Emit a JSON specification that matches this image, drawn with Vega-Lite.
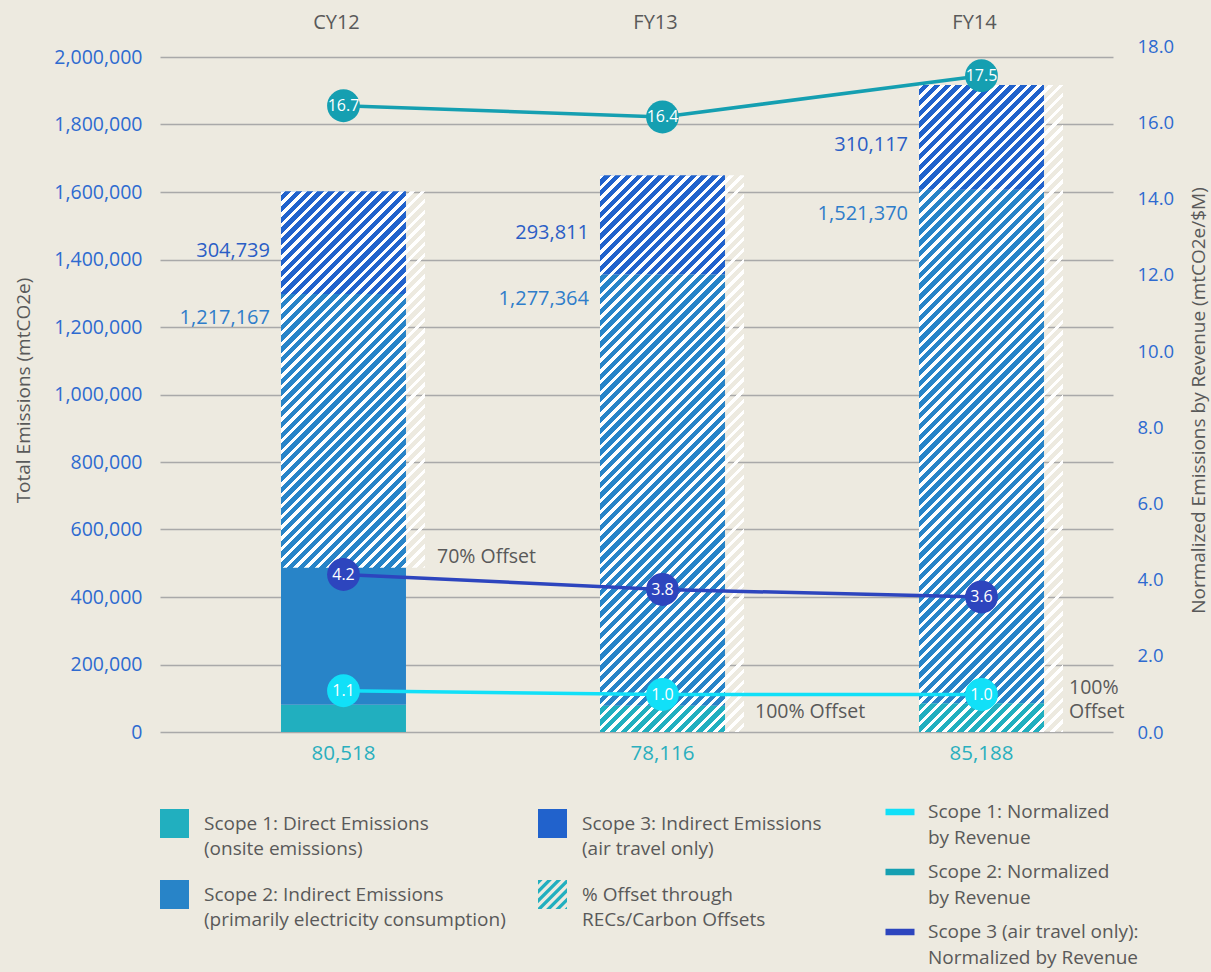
{
"$schema": "https://vega.github.io/schema/vega-lite/v6.json",
"width": 953, "height": 675,
"autosize": "none",
"padding": {"left": 160, "top": 57, "right": 98, "bottom": 240},
"background": "#EDEAE0",
"config": {"font": "Open Sans", "view": {"stroke": null}, "axis": {"labelFont": "Open Sans", "titleFont": "Open Sans"}, "legend": {"labelFont": "Open Sans", "padding": 0}},
"datasets": {
"bars": [
{"year": "CY12", "scope": "Scope 1", "value": 80518},
{"year": "CY12", "scope": "Scope 2", "value": 1217167},
{"year": "CY12", "scope": "Scope 3", "value": 304739},
{"year": "FY13", "scope": "Scope 1", "value": 78116},
{"year": "FY13", "scope": "Scope 2", "value": 1277364},
{"year": "FY13", "scope": "Scope 3", "value": 293811},
{"year": "FY14", "scope": "Scope 1", "value": 85188},
{"year": "FY14", "scope": "Scope 2", "value": 1521370},
{"year": "FY14", "scope": "Scope 3", "value": 310117}
],
"offsets": [
{"year": "CY12", "from": 487000, "to": 1602424, "note": "70% Offset"},
{"year": "FY13", "from": 0, "to": 1649291, "note": "100% Offset"},
{"year": "FY14", "from": 0, "to": 1916675, "note": "100%\nOffset"}
],
"norm": [
{"year": "CY12", "series": "Scope 1", "value": 1.1},
{"year": "FY13", "series": "Scope 1", "value": 1.0},
{"year": "FY14", "series": "Scope 1", "value": 1.0},
{"year": "CY12", "series": "Scope 2", "value": 16.7},
{"year": "FY13", "series": "Scope 2", "value": 16.4},
{"year": "FY14", "series": "Scope 2", "value": 17.5},
{"year": "CY12", "series": "Scope 3", "value": 4.2},
{"year": "FY13", "series": "Scope 3", "value": 3.8},
{"year": "FY14", "series": "Scope 3", "value": 3.6}
]
},
"layer": [
{"layer": [
{"data": {"name": "bars"},
 "mark": {"type": "bar"},
 "encoding": {
  "x": {"field": "year", "type": "nominal", "scale": {"domain": ["CY12", "FY13", "FY14"], "paddingInner": 0.6082, "paddingOuter": 0.2978, "align": 0.6368},
        "axis": {"orient": "top", "title": null, "domain": false, "ticks": false, "tickSize": 0, "labelAngle": 0, "labelFontSize": 20, "labelColor": "#595959", "labelPadding": 25, "labelOffset": -7}},
  "y": {"field": "value", "type": "quantitative", "stack": "zero", "scale": {"domain": [0, 2000000], "nice": false, "zero": true},
        "axis": {"orient": "left", "title": "Total Emissions (mtCO2e)", "values": [0, 200000, 400000, 600000, 800000, 1000000, 1200000, 1400000, 1600000, 1800000, 2000000], "format": ",d", "domain": false, "ticks": false, "tickSize": 0, "grid": true, "gridColor": "#A9A9A9", "gridWidth": 1.5, "labelColor": "#2E6AD0", "labelFontSize": 19.5, "labelPadding": 18, "titleColor": "#595959", "titleFontSize": 19, "titleFontWeight": "normal", "titleX": -137, "titleY": 333, "titleAngle": 270, "titleBaseline": "middle", "titleAlign": "center"}},
  "color": {"field": "scope", "type": "nominal",
   "scale": {"domain": ["Scope 1", "Scope 2", "Scope 3", "Offset"], "range": ["#21AFBF", "#2884C8", "#2162CC", "#21AFBF"]},
   "legend": {"orient": "none", "legendX": 0, "legendY": 752, "columns": 2, "columnPadding": 32, "rowPadding": 21, "title": null,
     "symbolType": "square", "symbolSize": 841, "symbolStrokeWidth": 0, "labelFontSize": 19, "labelColor": "#595959", "labelOffset": 15, "labelLimit": 500,
     "labelExpr": "datum.label === 'Scope 1' ? ['Scope 1: Direct Emissions', '(onsite emissions)'] : datum.label === 'Scope 2' ? ['Scope 2: Indirect Emissions', '(primarily electricity consumption)'] : datum.label === 'Scope 3' ? ['Scope 3: Indirect Emissions', '(air travel only)'] : ['% Offset through', 'RECs/Carbon Offsets']",
     "encoding": {
       "labels": {"lineHeight": {"value": 25.5}},
       "symbols": {"shape": {"condition": {"test": "datum.value === 'Offset'", "value": "M-1,-1L-0.68,-1L-1,-0.68Z M-1,-0.36L-0.36,-1L-0.04,-1L-1,-0.04Z M-1,0.28L0.28,-1L0.6,-1L-1,0.6Z M-1,0.92L0.92,-1L1,-1L1,-0.76L-0.76,1L-1,1Z M-0.44,1L1,-0.44L1,-0.12L-0.12,1Z M0.2,1L1,0.2L1,0.52L0.52,1Z M0.84,1L1,0.84L1,1Z"}, "value": "square"}}
     }}},
  "order": {"field": "scope", "type": "ordinal", "sort": "ascending"}
 }},
{"data": {"name": "offsets"}, "transform": [{"filter": "datum.year === 'CY12'"}],
 "mark": {"type": "bar", "width": 144, "xOffset": 9.5, "stroke": null, "fill": {"gradient": "linear", "x1": 0, "y1": 0, "x2": 0.76587, "y2": 2.00216, "stops": [
{"offset":0,"color":"#fff"},{"offset":0.005,"color":"#fff"},{"offset":0.005,"color":"#fff0"},{"offset":0.0125,"color":"#fff0"},
{"offset":0.0125,"color":"#fff"},{"offset":0.0175,"color":"#fff"},{"offset":0.0175,"color":"#fff0"},{"offset":0.025,"color":"#fff0"},
{"offset":0.025,"color":"#fff"},{"offset":0.03,"color":"#fff"},{"offset":0.03,"color":"#fff0"},{"offset":0.0375,"color":"#fff0"},
{"offset":0.0375,"color":"#fff"},{"offset":0.0425,"color":"#fff"},{"offset":0.0425,"color":"#fff0"},{"offset":0.05,"color":"#fff0"},
{"offset":0.05,"color":"#fff"},{"offset":0.055,"color":"#fff"},{"offset":0.055,"color":"#fff0"},{"offset":0.0625,"color":"#fff0"},
{"offset":0.0625,"color":"#fff"},{"offset":0.0675,"color":"#fff"},{"offset":0.0675,"color":"#fff0"},{"offset":0.075,"color":"#fff0"},
{"offset":0.075,"color":"#fff"},{"offset":0.08,"color":"#fff"},{"offset":0.08,"color":"#fff0"},{"offset":0.0875,"color":"#fff0"},
{"offset":0.0875,"color":"#fff"},{"offset":0.0925,"color":"#fff"},{"offset":0.0925,"color":"#fff0"},{"offset":0.1,"color":"#fff0"},
{"offset":0.1,"color":"#fff"},{"offset":0.105,"color":"#fff"},{"offset":0.105,"color":"#fff0"},{"offset":0.1125,"color":"#fff0"},
{"offset":0.1125,"color":"#fff"},{"offset":0.1175,"color":"#fff"},{"offset":0.1175,"color":"#fff0"},{"offset":0.125,"color":"#fff0"},
{"offset":0.125,"color":"#fff"},{"offset":0.13,"color":"#fff"},{"offset":0.13,"color":"#fff0"},{"offset":0.1375,"color":"#fff0"},
{"offset":0.1375,"color":"#fff"},{"offset":0.1425,"color":"#fff"},{"offset":0.1425,"color":"#fff0"},{"offset":0.15,"color":"#fff0"},
{"offset":0.15,"color":"#fff"},{"offset":0.155,"color":"#fff"},{"offset":0.155,"color":"#fff0"},{"offset":0.1625,"color":"#fff0"},
{"offset":0.1625,"color":"#fff"},{"offset":0.1675,"color":"#fff"},{"offset":0.1675,"color":"#fff0"},{"offset":0.175,"color":"#fff0"},
{"offset":0.175,"color":"#fff"},{"offset":0.18,"color":"#fff"},{"offset":0.18,"color":"#fff0"},{"offset":0.1875,"color":"#fff0"},
{"offset":0.1875,"color":"#fff"},{"offset":0.1925,"color":"#fff"},{"offset":0.1925,"color":"#fff0"},{"offset":0.2,"color":"#fff0"},
{"offset":0.2,"color":"#fff"},{"offset":0.205,"color":"#fff"},{"offset":0.205,"color":"#fff0"},{"offset":0.2125,"color":"#fff0"},
{"offset":0.2125,"color":"#fff"},{"offset":0.2175,"color":"#fff"},{"offset":0.2175,"color":"#fff0"},{"offset":0.225,"color":"#fff0"},
{"offset":0.225,"color":"#fff"},{"offset":0.23,"color":"#fff"},{"offset":0.23,"color":"#fff0"},{"offset":0.2375,"color":"#fff0"},
{"offset":0.2375,"color":"#fff"},{"offset":0.2425,"color":"#fff"},{"offset":0.2425,"color":"#fff0"},{"offset":0.25,"color":"#fff0"},
{"offset":0.25,"color":"#fff"},{"offset":0.255,"color":"#fff"},{"offset":0.255,"color":"#fff0"},{"offset":0.2625,"color":"#fff0"},
{"offset":0.2625,"color":"#fff"},{"offset":0.2675,"color":"#fff"},{"offset":0.2675,"color":"#fff0"},{"offset":0.275,"color":"#fff0"},
{"offset":0.275,"color":"#fff"},{"offset":0.28,"color":"#fff"},{"offset":0.28,"color":"#fff0"},{"offset":0.2875,"color":"#fff0"},
{"offset":0.2875,"color":"#fff"},{"offset":0.2925,"color":"#fff"},{"offset":0.2925,"color":"#fff0"},{"offset":0.3,"color":"#fff0"},
{"offset":0.3,"color":"#fff"},{"offset":0.305,"color":"#fff"},{"offset":0.305,"color":"#fff0"},{"offset":0.3125,"color":"#fff0"},
{"offset":0.3125,"color":"#fff"},{"offset":0.3175,"color":"#fff"},{"offset":0.3175,"color":"#fff0"},{"offset":0.325,"color":"#fff0"},
{"offset":0.325,"color":"#fff"},{"offset":0.33,"color":"#fff"},{"offset":0.33,"color":"#fff0"},{"offset":0.3375,"color":"#fff0"},
{"offset":0.3375,"color":"#fff"},{"offset":0.3425,"color":"#fff"},{"offset":0.3425,"color":"#fff0"},{"offset":0.35,"color":"#fff0"},
{"offset":0.35,"color":"#fff"},{"offset":0.355,"color":"#fff"},{"offset":0.355,"color":"#fff0"},{"offset":0.3625,"color":"#fff0"},
{"offset":0.3625,"color":"#fff"},{"offset":0.3675,"color":"#fff"},{"offset":0.3675,"color":"#fff0"},{"offset":0.375,"color":"#fff0"},
{"offset":0.375,"color":"#fff"},{"offset":0.38,"color":"#fff"},{"offset":0.38,"color":"#fff0"},{"offset":0.3875,"color":"#fff0"},
{"offset":0.3875,"color":"#fff"},{"offset":0.3925,"color":"#fff"},{"offset":0.3925,"color":"#fff0"},{"offset":0.4,"color":"#fff0"},
{"offset":0.4,"color":"#fff"},{"offset":0.405,"color":"#fff"},{"offset":0.405,"color":"#fff0"},{"offset":0.4125,"color":"#fff0"},
{"offset":0.4125,"color":"#fff"},{"offset":0.4175,"color":"#fff"},{"offset":0.4175,"color":"#fff0"},{"offset":0.425,"color":"#fff0"},
{"offset":0.425,"color":"#fff"},{"offset":0.43,"color":"#fff"},{"offset":0.43,"color":"#fff0"},{"offset":0.4375,"color":"#fff0"},
{"offset":0.4375,"color":"#fff"},{"offset":0.4425,"color":"#fff"},{"offset":0.4425,"color":"#fff0"},{"offset":0.45,"color":"#fff0"},
{"offset":0.45,"color":"#fff"},{"offset":0.455,"color":"#fff"},{"offset":0.455,"color":"#fff0"},{"offset":0.4625,"color":"#fff0"},
{"offset":0.4625,"color":"#fff"},{"offset":0.4675,"color":"#fff"},{"offset":0.4675,"color":"#fff0"},{"offset":0.475,"color":"#fff0"},
{"offset":0.475,"color":"#fff"},{"offset":0.48,"color":"#fff"},{"offset":0.48,"color":"#fff0"},{"offset":0.4875,"color":"#fff0"},
{"offset":0.4875,"color":"#fff"},{"offset":0.4925,"color":"#fff"},{"offset":0.4925,"color":"#fff0"},{"offset":0.5,"color":"#fff0"},
{"offset":0.5,"color":"#fff"},{"offset":0.505,"color":"#fff"},{"offset":0.505,"color":"#fff0"},{"offset":0.5125,"color":"#fff0"},
{"offset":0.5125,"color":"#fff"},{"offset":0.5175,"color":"#fff"},{"offset":0.5175,"color":"#fff0"},{"offset":0.525,"color":"#fff0"},
{"offset":0.525,"color":"#fff"},{"offset":0.53,"color":"#fff"},{"offset":0.53,"color":"#fff0"},{"offset":0.5375,"color":"#fff0"},
{"offset":0.5375,"color":"#fff"},{"offset":0.5425,"color":"#fff"},{"offset":0.5425,"color":"#fff0"},{"offset":0.55,"color":"#fff0"},
{"offset":0.55,"color":"#fff"},{"offset":0.555,"color":"#fff"},{"offset":0.555,"color":"#fff0"},{"offset":0.5625,"color":"#fff0"},
{"offset":0.5625,"color":"#fff"},{"offset":0.5675,"color":"#fff"},{"offset":0.5675,"color":"#fff0"},{"offset":0.575,"color":"#fff0"},
{"offset":0.575,"color":"#fff"},{"offset":0.58,"color":"#fff"},{"offset":0.58,"color":"#fff0"},{"offset":0.5875,"color":"#fff0"},
{"offset":0.5875,"color":"#fff"},{"offset":0.5925,"color":"#fff"},{"offset":0.5925,"color":"#fff0"},{"offset":0.6,"color":"#fff0"},
{"offset":0.6,"color":"#fff"},{"offset":0.605,"color":"#fff"},{"offset":0.605,"color":"#fff0"},{"offset":0.6125,"color":"#fff0"}
]}},
 "encoding": {"x": {"field": "year", "type": "nominal"}, "y": {"field": "from", "type": "quantitative"}, "y2": {"field": "to"}}},
{"data": {"name": "offsets"}, "transform": [{"filter": "datum.year === 'FY13'"}],
 "mark": {"type": "bar", "width": 144, "xOffset": 9.5, "stroke": null, "fill": {"gradient": "linear", "x1": 0, "y1": 0, "x2": 0.37635, "y2": 1.45481, "stops": [
{"offset":0,"color":"#fff"},{"offset":0.005,"color":"#fff"},{"offset":0.005,"color":"#fff0"},{"offset":0.0125,"color":"#fff0"},
{"offset":0.0125,"color":"#fff"},{"offset":0.0175,"color":"#fff"},{"offset":0.0175,"color":"#fff0"},{"offset":0.025,"color":"#fff0"},
{"offset":0.025,"color":"#fff"},{"offset":0.03,"color":"#fff"},{"offset":0.03,"color":"#fff0"},{"offset":0.0375,"color":"#fff0"},
{"offset":0.0375,"color":"#fff"},{"offset":0.0425,"color":"#fff"},{"offset":0.0425,"color":"#fff0"},{"offset":0.05,"color":"#fff0"},
{"offset":0.05,"color":"#fff"},{"offset":0.055,"color":"#fff"},{"offset":0.055,"color":"#fff0"},{"offset":0.0625,"color":"#fff0"},
{"offset":0.0625,"color":"#fff"},{"offset":0.0675,"color":"#fff"},{"offset":0.0675,"color":"#fff0"},{"offset":0.075,"color":"#fff0"},
{"offset":0.075,"color":"#fff"},{"offset":0.08,"color":"#fff"},{"offset":0.08,"color":"#fff0"},{"offset":0.0875,"color":"#fff0"},
{"offset":0.0875,"color":"#fff"},{"offset":0.0925,"color":"#fff"},{"offset":0.0925,"color":"#fff0"},{"offset":0.1,"color":"#fff0"},
{"offset":0.1,"color":"#fff"},{"offset":0.105,"color":"#fff"},{"offset":0.105,"color":"#fff0"},{"offset":0.1125,"color":"#fff0"},
{"offset":0.1125,"color":"#fff"},{"offset":0.1175,"color":"#fff"},{"offset":0.1175,"color":"#fff0"},{"offset":0.125,"color":"#fff0"},
{"offset":0.125,"color":"#fff"},{"offset":0.13,"color":"#fff"},{"offset":0.13,"color":"#fff0"},{"offset":0.1375,"color":"#fff0"},
{"offset":0.1375,"color":"#fff"},{"offset":0.1425,"color":"#fff"},{"offset":0.1425,"color":"#fff0"},{"offset":0.15,"color":"#fff0"},
{"offset":0.15,"color":"#fff"},{"offset":0.155,"color":"#fff"},{"offset":0.155,"color":"#fff0"},{"offset":0.1625,"color":"#fff0"},
{"offset":0.1625,"color":"#fff"},{"offset":0.1675,"color":"#fff"},{"offset":0.1675,"color":"#fff0"},{"offset":0.175,"color":"#fff0"},
{"offset":0.175,"color":"#fff"},{"offset":0.18,"color":"#fff"},{"offset":0.18,"color":"#fff0"},{"offset":0.1875,"color":"#fff0"},
{"offset":0.1875,"color":"#fff"},{"offset":0.1925,"color":"#fff"},{"offset":0.1925,"color":"#fff0"},{"offset":0.2,"color":"#fff0"},
{"offset":0.2,"color":"#fff"},{"offset":0.205,"color":"#fff"},{"offset":0.205,"color":"#fff0"},{"offset":0.2125,"color":"#fff0"},
{"offset":0.2125,"color":"#fff"},{"offset":0.2175,"color":"#fff"},{"offset":0.2175,"color":"#fff0"},{"offset":0.225,"color":"#fff0"},
{"offset":0.225,"color":"#fff"},{"offset":0.23,"color":"#fff"},{"offset":0.23,"color":"#fff0"},{"offset":0.2375,"color":"#fff0"},
{"offset":0.2375,"color":"#fff"},{"offset":0.2425,"color":"#fff"},{"offset":0.2425,"color":"#fff0"},{"offset":0.25,"color":"#fff0"},
{"offset":0.25,"color":"#fff"},{"offset":0.255,"color":"#fff"},{"offset":0.255,"color":"#fff0"},{"offset":0.2625,"color":"#fff0"},
{"offset":0.2625,"color":"#fff"},{"offset":0.2675,"color":"#fff"},{"offset":0.2675,"color":"#fff0"},{"offset":0.275,"color":"#fff0"},
{"offset":0.275,"color":"#fff"},{"offset":0.28,"color":"#fff"},{"offset":0.28,"color":"#fff0"},{"offset":0.2875,"color":"#fff0"},
{"offset":0.2875,"color":"#fff"},{"offset":0.2925,"color":"#fff"},{"offset":0.2925,"color":"#fff0"},{"offset":0.3,"color":"#fff0"},
{"offset":0.3,"color":"#fff"},{"offset":0.305,"color":"#fff"},{"offset":0.305,"color":"#fff0"},{"offset":0.3125,"color":"#fff0"},
{"offset":0.3125,"color":"#fff"},{"offset":0.3175,"color":"#fff"},{"offset":0.3175,"color":"#fff0"},{"offset":0.325,"color":"#fff0"},
{"offset":0.325,"color":"#fff"},{"offset":0.33,"color":"#fff"},{"offset":0.33,"color":"#fff0"},{"offset":0.3375,"color":"#fff0"},
{"offset":0.3375,"color":"#fff"},{"offset":0.3425,"color":"#fff"},{"offset":0.3425,"color":"#fff0"},{"offset":0.35,"color":"#fff0"},
{"offset":0.35,"color":"#fff"},{"offset":0.355,"color":"#fff"},{"offset":0.355,"color":"#fff0"},{"offset":0.3625,"color":"#fff0"},
{"offset":0.3625,"color":"#fff"},{"offset":0.3675,"color":"#fff"},{"offset":0.3675,"color":"#fff0"},{"offset":0.375,"color":"#fff0"},
{"offset":0.375,"color":"#fff"},{"offset":0.38,"color":"#fff"},{"offset":0.38,"color":"#fff0"},{"offset":0.3875,"color":"#fff0"},
{"offset":0.3875,"color":"#fff"},{"offset":0.3925,"color":"#fff"},{"offset":0.3925,"color":"#fff0"},{"offset":0.4,"color":"#fff0"},
{"offset":0.4,"color":"#fff"},{"offset":0.405,"color":"#fff"},{"offset":0.405,"color":"#fff0"},{"offset":0.4125,"color":"#fff0"},
{"offset":0.4125,"color":"#fff"},{"offset":0.4175,"color":"#fff"},{"offset":0.4175,"color":"#fff0"},{"offset":0.425,"color":"#fff0"},
{"offset":0.425,"color":"#fff"},{"offset":0.43,"color":"#fff"},{"offset":0.43,"color":"#fff0"},{"offset":0.4375,"color":"#fff0"},
{"offset":0.4375,"color":"#fff"},{"offset":0.4425,"color":"#fff"},{"offset":0.4425,"color":"#fff0"},{"offset":0.45,"color":"#fff0"},
{"offset":0.45,"color":"#fff"},{"offset":0.455,"color":"#fff"},{"offset":0.455,"color":"#fff0"},{"offset":0.4625,"color":"#fff0"},
{"offset":0.4625,"color":"#fff"},{"offset":0.4675,"color":"#fff"},{"offset":0.4675,"color":"#fff0"},{"offset":0.475,"color":"#fff0"},
{"offset":0.475,"color":"#fff"},{"offset":0.48,"color":"#fff"},{"offset":0.48,"color":"#fff0"},{"offset":0.4875,"color":"#fff0"},
{"offset":0.4875,"color":"#fff"},{"offset":0.4925,"color":"#fff"},{"offset":0.4925,"color":"#fff0"},{"offset":0.5,"color":"#fff0"},
{"offset":0.5,"color":"#fff"},{"offset":0.505,"color":"#fff"},{"offset":0.505,"color":"#fff0"},{"offset":0.5125,"color":"#fff0"},
{"offset":0.5125,"color":"#fff"},{"offset":0.5175,"color":"#fff"},{"offset":0.5175,"color":"#fff0"},{"offset":0.525,"color":"#fff0"},
{"offset":0.525,"color":"#fff"},{"offset":0.53,"color":"#fff"},{"offset":0.53,"color":"#fff0"},{"offset":0.5375,"color":"#fff0"},
{"offset":0.5375,"color":"#fff"},{"offset":0.5425,"color":"#fff"},{"offset":0.5425,"color":"#fff0"},{"offset":0.55,"color":"#fff0"},
{"offset":0.55,"color":"#fff"},{"offset":0.555,"color":"#fff"},{"offset":0.555,"color":"#fff0"},{"offset":0.5625,"color":"#fff0"},
{"offset":0.5625,"color":"#fff"},{"offset":0.5675,"color":"#fff"},{"offset":0.5675,"color":"#fff0"},{"offset":0.575,"color":"#fff0"},
{"offset":0.575,"color":"#fff"},{"offset":0.58,"color":"#fff"},{"offset":0.58,"color":"#fff0"},{"offset":0.5875,"color":"#fff0"},
{"offset":0.5875,"color":"#fff"},{"offset":0.5925,"color":"#fff"},{"offset":0.5925,"color":"#fff0"},{"offset":0.6,"color":"#fff0"},
{"offset":0.6,"color":"#fff"},{"offset":0.605,"color":"#fff"},{"offset":0.605,"color":"#fff0"},{"offset":0.6125,"color":"#fff0"},
{"offset":0.6125,"color":"#fff"},{"offset":0.6175,"color":"#fff"},{"offset":0.6175,"color":"#fff0"},{"offset":0.625,"color":"#fff0"},
{"offset":0.625,"color":"#fff"},{"offset":0.63,"color":"#fff"},{"offset":0.63,"color":"#fff0"},{"offset":0.6375,"color":"#fff0"},
{"offset":0.6375,"color":"#fff"},{"offset":0.6425,"color":"#fff"},{"offset":0.6425,"color":"#fff0"},{"offset":0.65,"color":"#fff0"},
{"offset":0.65,"color":"#fff"},{"offset":0.655,"color":"#fff"},{"offset":0.655,"color":"#fff0"},{"offset":0.6625,"color":"#fff0"},
{"offset":0.6625,"color":"#fff"},{"offset":0.6675,"color":"#fff"},{"offset":0.6675,"color":"#fff0"},{"offset":0.675,"color":"#fff0"},
{"offset":0.675,"color":"#fff"},{"offset":0.68,"color":"#fff"},{"offset":0.68,"color":"#fff0"},{"offset":0.6875,"color":"#fff0"},
{"offset":0.6875,"color":"#fff"},{"offset":0.6925,"color":"#fff"},{"offset":0.6925,"color":"#fff0"},{"offset":0.7,"color":"#fff0"},
{"offset":0.7,"color":"#fff"},{"offset":0.705,"color":"#fff"},{"offset":0.705,"color":"#fff0"},{"offset":0.7125,"color":"#fff0"},
{"offset":0.7125,"color":"#fff"},{"offset":0.7175,"color":"#fff"},{"offset":0.7175,"color":"#fff0"},{"offset":0.725,"color":"#fff0"},
{"offset":0.725,"color":"#fff"},{"offset":0.73,"color":"#fff"},{"offset":0.73,"color":"#fff0"},{"offset":0.7375,"color":"#fff0"},
{"offset":0.7375,"color":"#fff"},{"offset":0.7425,"color":"#fff"},{"offset":0.7425,"color":"#fff0"},{"offset":0.75,"color":"#fff0"},
{"offset":0.75,"color":"#fff"},{"offset":0.755,"color":"#fff"},{"offset":0.755,"color":"#fff0"},{"offset":0.7625,"color":"#fff0"},
{"offset":0.7625,"color":"#fff"},{"offset":0.7675,"color":"#fff"},{"offset":0.7675,"color":"#fff0"},{"offset":0.775,"color":"#fff0"},
{"offset":0.775,"color":"#fff"},{"offset":0.78,"color":"#fff"},{"offset":0.78,"color":"#fff0"},{"offset":0.7875,"color":"#fff0"},
{"offset":0.7875,"color":"#fff"},{"offset":0.7925,"color":"#fff"},{"offset":0.7925,"color":"#fff0"},{"offset":0.8,"color":"#fff0"},
{"offset":0.8,"color":"#fff"},{"offset":0.805,"color":"#fff"},{"offset":0.805,"color":"#fff0"},{"offset":0.8125,"color":"#fff0"}
]}},
 "encoding": {"x": {"field": "year", "type": "nominal"}, "y": {"field": "from", "type": "quantitative"}, "y2": {"field": "to"}}},
{"data": {"name": "offsets"}, "transform": [{"filter": "datum.year === 'FY14'"}],
 "mark": {"type": "bar", "width": 144, "xOffset": 9.5, "stroke": null, "fill": {"gradient": "linear", "x1": 0, "y1": 0, "x2": 0.28329, "y2": 1.27258, "stops": [
{"offset":0,"color":"#fff"},{"offset":0.005,"color":"#fff"},{"offset":0.005,"color":"#fff0"},{"offset":0.0125,"color":"#fff0"},
{"offset":0.0125,"color":"#fff"},{"offset":0.0175,"color":"#fff"},{"offset":0.0175,"color":"#fff0"},{"offset":0.025,"color":"#fff0"},
{"offset":0.025,"color":"#fff"},{"offset":0.03,"color":"#fff"},{"offset":0.03,"color":"#fff0"},{"offset":0.0375,"color":"#fff0"},
{"offset":0.0375,"color":"#fff"},{"offset":0.0425,"color":"#fff"},{"offset":0.0425,"color":"#fff0"},{"offset":0.05,"color":"#fff0"},
{"offset":0.05,"color":"#fff"},{"offset":0.055,"color":"#fff"},{"offset":0.055,"color":"#fff0"},{"offset":0.0625,"color":"#fff0"},
{"offset":0.0625,"color":"#fff"},{"offset":0.0675,"color":"#fff"},{"offset":0.0675,"color":"#fff0"},{"offset":0.075,"color":"#fff0"},
{"offset":0.075,"color":"#fff"},{"offset":0.08,"color":"#fff"},{"offset":0.08,"color":"#fff0"},{"offset":0.0875,"color":"#fff0"},
{"offset":0.0875,"color":"#fff"},{"offset":0.0925,"color":"#fff"},{"offset":0.0925,"color":"#fff0"},{"offset":0.1,"color":"#fff0"},
{"offset":0.1,"color":"#fff"},{"offset":0.105,"color":"#fff"},{"offset":0.105,"color":"#fff0"},{"offset":0.1125,"color":"#fff0"},
{"offset":0.1125,"color":"#fff"},{"offset":0.1175,"color":"#fff"},{"offset":0.1175,"color":"#fff0"},{"offset":0.125,"color":"#fff0"},
{"offset":0.125,"color":"#fff"},{"offset":0.13,"color":"#fff"},{"offset":0.13,"color":"#fff0"},{"offset":0.1375,"color":"#fff0"},
{"offset":0.1375,"color":"#fff"},{"offset":0.1425,"color":"#fff"},{"offset":0.1425,"color":"#fff0"},{"offset":0.15,"color":"#fff0"},
{"offset":0.15,"color":"#fff"},{"offset":0.155,"color":"#fff"},{"offset":0.155,"color":"#fff0"},{"offset":0.1625,"color":"#fff0"},
{"offset":0.1625,"color":"#fff"},{"offset":0.1675,"color":"#fff"},{"offset":0.1675,"color":"#fff0"},{"offset":0.175,"color":"#fff0"},
{"offset":0.175,"color":"#fff"},{"offset":0.18,"color":"#fff"},{"offset":0.18,"color":"#fff0"},{"offset":0.1875,"color":"#fff0"},
{"offset":0.1875,"color":"#fff"},{"offset":0.1925,"color":"#fff"},{"offset":0.1925,"color":"#fff0"},{"offset":0.2,"color":"#fff0"},
{"offset":0.2,"color":"#fff"},{"offset":0.205,"color":"#fff"},{"offset":0.205,"color":"#fff0"},{"offset":0.2125,"color":"#fff0"},
{"offset":0.2125,"color":"#fff"},{"offset":0.2175,"color":"#fff"},{"offset":0.2175,"color":"#fff0"},{"offset":0.225,"color":"#fff0"},
{"offset":0.225,"color":"#fff"},{"offset":0.23,"color":"#fff"},{"offset":0.23,"color":"#fff0"},{"offset":0.2375,"color":"#fff0"},
{"offset":0.2375,"color":"#fff"},{"offset":0.2425,"color":"#fff"},{"offset":0.2425,"color":"#fff0"},{"offset":0.25,"color":"#fff0"},
{"offset":0.25,"color":"#fff"},{"offset":0.255,"color":"#fff"},{"offset":0.255,"color":"#fff0"},{"offset":0.2625,"color":"#fff0"},
{"offset":0.2625,"color":"#fff"},{"offset":0.2675,"color":"#fff"},{"offset":0.2675,"color":"#fff0"},{"offset":0.275,"color":"#fff0"},
{"offset":0.275,"color":"#fff"},{"offset":0.28,"color":"#fff"},{"offset":0.28,"color":"#fff0"},{"offset":0.2875,"color":"#fff0"},
{"offset":0.2875,"color":"#fff"},{"offset":0.2925,"color":"#fff"},{"offset":0.2925,"color":"#fff0"},{"offset":0.3,"color":"#fff0"},
{"offset":0.3,"color":"#fff"},{"offset":0.305,"color":"#fff"},{"offset":0.305,"color":"#fff0"},{"offset":0.3125,"color":"#fff0"},
{"offset":0.3125,"color":"#fff"},{"offset":0.3175,"color":"#fff"},{"offset":0.3175,"color":"#fff0"},{"offset":0.325,"color":"#fff0"},
{"offset":0.325,"color":"#fff"},{"offset":0.33,"color":"#fff"},{"offset":0.33,"color":"#fff0"},{"offset":0.3375,"color":"#fff0"},
{"offset":0.3375,"color":"#fff"},{"offset":0.3425,"color":"#fff"},{"offset":0.3425,"color":"#fff0"},{"offset":0.35,"color":"#fff0"},
{"offset":0.35,"color":"#fff"},{"offset":0.355,"color":"#fff"},{"offset":0.355,"color":"#fff0"},{"offset":0.3625,"color":"#fff0"},
{"offset":0.3625,"color":"#fff"},{"offset":0.3675,"color":"#fff"},{"offset":0.3675,"color":"#fff0"},{"offset":0.375,"color":"#fff0"},
{"offset":0.375,"color":"#fff"},{"offset":0.38,"color":"#fff"},{"offset":0.38,"color":"#fff0"},{"offset":0.3875,"color":"#fff0"},
{"offset":0.3875,"color":"#fff"},{"offset":0.3925,"color":"#fff"},{"offset":0.3925,"color":"#fff0"},{"offset":0.4,"color":"#fff0"},
{"offset":0.4,"color":"#fff"},{"offset":0.405,"color":"#fff"},{"offset":0.405,"color":"#fff0"},{"offset":0.4125,"color":"#fff0"},
{"offset":0.4125,"color":"#fff"},{"offset":0.4175,"color":"#fff"},{"offset":0.4175,"color":"#fff0"},{"offset":0.425,"color":"#fff0"},
{"offset":0.425,"color":"#fff"},{"offset":0.43,"color":"#fff"},{"offset":0.43,"color":"#fff0"},{"offset":0.4375,"color":"#fff0"},
{"offset":0.4375,"color":"#fff"},{"offset":0.4425,"color":"#fff"},{"offset":0.4425,"color":"#fff0"},{"offset":0.45,"color":"#fff0"},
{"offset":0.45,"color":"#fff"},{"offset":0.455,"color":"#fff"},{"offset":0.455,"color":"#fff0"},{"offset":0.4625,"color":"#fff0"},
{"offset":0.4625,"color":"#fff"},{"offset":0.4675,"color":"#fff"},{"offset":0.4675,"color":"#fff0"},{"offset":0.475,"color":"#fff0"},
{"offset":0.475,"color":"#fff"},{"offset":0.48,"color":"#fff"},{"offset":0.48,"color":"#fff0"},{"offset":0.4875,"color":"#fff0"},
{"offset":0.4875,"color":"#fff"},{"offset":0.4925,"color":"#fff"},{"offset":0.4925,"color":"#fff0"},{"offset":0.5,"color":"#fff0"},
{"offset":0.5,"color":"#fff"},{"offset":0.505,"color":"#fff"},{"offset":0.505,"color":"#fff0"},{"offset":0.5125,"color":"#fff0"},
{"offset":0.5125,"color":"#fff"},{"offset":0.5175,"color":"#fff"},{"offset":0.5175,"color":"#fff0"},{"offset":0.525,"color":"#fff0"},
{"offset":0.525,"color":"#fff"},{"offset":0.53,"color":"#fff"},{"offset":0.53,"color":"#fff0"},{"offset":0.5375,"color":"#fff0"},
{"offset":0.5375,"color":"#fff"},{"offset":0.5425,"color":"#fff"},{"offset":0.5425,"color":"#fff0"},{"offset":0.55,"color":"#fff0"},
{"offset":0.55,"color":"#fff"},{"offset":0.555,"color":"#fff"},{"offset":0.555,"color":"#fff0"},{"offset":0.5625,"color":"#fff0"},
{"offset":0.5625,"color":"#fff"},{"offset":0.5675,"color":"#fff"},{"offset":0.5675,"color":"#fff0"},{"offset":0.575,"color":"#fff0"},
{"offset":0.575,"color":"#fff"},{"offset":0.58,"color":"#fff"},{"offset":0.58,"color":"#fff0"},{"offset":0.5875,"color":"#fff0"},
{"offset":0.5875,"color":"#fff"},{"offset":0.5925,"color":"#fff"},{"offset":0.5925,"color":"#fff0"},{"offset":0.6,"color":"#fff0"},
{"offset":0.6,"color":"#fff"},{"offset":0.605,"color":"#fff"},{"offset":0.605,"color":"#fff0"},{"offset":0.6125,"color":"#fff0"},
{"offset":0.6125,"color":"#fff"},{"offset":0.6175,"color":"#fff"},{"offset":0.6175,"color":"#fff0"},{"offset":0.625,"color":"#fff0"},
{"offset":0.625,"color":"#fff"},{"offset":0.63,"color":"#fff"},{"offset":0.63,"color":"#fff0"},{"offset":0.6375,"color":"#fff0"},
{"offset":0.6375,"color":"#fff"},{"offset":0.6425,"color":"#fff"},{"offset":0.6425,"color":"#fff0"},{"offset":0.65,"color":"#fff0"},
{"offset":0.65,"color":"#fff"},{"offset":0.655,"color":"#fff"},{"offset":0.655,"color":"#fff0"},{"offset":0.6625,"color":"#fff0"},
{"offset":0.6625,"color":"#fff"},{"offset":0.6675,"color":"#fff"},{"offset":0.6675,"color":"#fff0"},{"offset":0.675,"color":"#fff0"},
{"offset":0.675,"color":"#fff"},{"offset":0.68,"color":"#fff"},{"offset":0.68,"color":"#fff0"},{"offset":0.6875,"color":"#fff0"},
{"offset":0.6875,"color":"#fff"},{"offset":0.6925,"color":"#fff"},{"offset":0.6925,"color":"#fff0"},{"offset":0.7,"color":"#fff0"},
{"offset":0.7,"color":"#fff"},{"offset":0.705,"color":"#fff"},{"offset":0.705,"color":"#fff0"},{"offset":0.7125,"color":"#fff0"},
{"offset":0.7125,"color":"#fff"},{"offset":0.7175,"color":"#fff"},{"offset":0.7175,"color":"#fff0"},{"offset":0.725,"color":"#fff0"},
{"offset":0.725,"color":"#fff"},{"offset":0.73,"color":"#fff"},{"offset":0.73,"color":"#fff0"},{"offset":0.7375,"color":"#fff0"},
{"offset":0.7375,"color":"#fff"},{"offset":0.7425,"color":"#fff"},{"offset":0.7425,"color":"#fff0"},{"offset":0.75,"color":"#fff0"},
{"offset":0.75,"color":"#fff"},{"offset":0.755,"color":"#fff"},{"offset":0.755,"color":"#fff0"},{"offset":0.7625,"color":"#fff0"},
{"offset":0.7625,"color":"#fff"},{"offset":0.7675,"color":"#fff"},{"offset":0.7675,"color":"#fff0"},{"offset":0.775,"color":"#fff0"},
{"offset":0.775,"color":"#fff"},{"offset":0.78,"color":"#fff"},{"offset":0.78,"color":"#fff0"},{"offset":0.7875,"color":"#fff0"},
{"offset":0.7875,"color":"#fff"},{"offset":0.7925,"color":"#fff"},{"offset":0.7925,"color":"#fff0"},{"offset":0.8,"color":"#fff0"},
{"offset":0.8,"color":"#fff"},{"offset":0.805,"color":"#fff"},{"offset":0.805,"color":"#fff0"},{"offset":0.8125,"color":"#fff0"},
{"offset":0.8125,"color":"#fff"},{"offset":0.8175,"color":"#fff"},{"offset":0.8175,"color":"#fff0"},{"offset":0.825,"color":"#fff0"},
{"offset":0.825,"color":"#fff"},{"offset":0.83,"color":"#fff"},{"offset":0.83,"color":"#fff0"},{"offset":0.8375,"color":"#fff0"},
{"offset":0.8375,"color":"#fff"},{"offset":0.8425,"color":"#fff"},{"offset":0.8425,"color":"#fff0"},{"offset":0.85,"color":"#fff0"},
{"offset":0.85,"color":"#fff"},{"offset":0.855,"color":"#fff"},{"offset":0.855,"color":"#fff0"},{"offset":0.8625,"color":"#fff0"},
{"offset":0.8625,"color":"#fff"},{"offset":0.8675,"color":"#fff"},{"offset":0.8675,"color":"#fff0"},{"offset":0.875,"color":"#fff0"},
{"offset":0.875,"color":"#fff"},{"offset":0.88,"color":"#fff"},{"offset":0.88,"color":"#fff0"},{"offset":0.8875,"color":"#fff0"},
{"offset":0.8875,"color":"#fff"},{"offset":0.8925,"color":"#fff"},{"offset":0.8925,"color":"#fff0"},{"offset":0.9,"color":"#fff0"},
{"offset":0.9,"color":"#fff"},{"offset":0.905,"color":"#fff"},{"offset":0.905,"color":"#fff0"},{"offset":0.9125,"color":"#fff0"},
{"offset":0.9125,"color":"#fff"},{"offset":0.9175,"color":"#fff"},{"offset":0.9175,"color":"#fff0"},{"offset":0.925,"color":"#fff0"}
]}},
 "encoding": {"x": {"field": "year", "type": "nominal"}, "y": {"field": "from", "type": "quantitative"}, "y2": {"field": "to"}}},
{"data": {"name": "bars"},
 "transform": [{"stack": "value", "groupby": ["year"], "sort": [{"field": "scope", "order": "ascending"}], "as": ["v0", "v1"]}, {"filter": "datum.scope === 'Scope 1'"}],
 "mark": {"type": "text", "align": "center", "baseline": "middle", "dy": 22, "fontSize": 20.5, "fill": "#2AAFBE"},
 "encoding": {"x": {"field": "year", "type": "nominal"}, "y": {"field": "v0", "type": "quantitative"}, "text": {"field": "value", "type": "quantitative", "format": ","}}},
{"data": {"name": "bars"},
 "transform": [{"stack": "value", "groupby": ["year"], "sort": [{"field": "scope", "order": "ascending"}], "as": ["v0", "v1"]}, {"filter": "datum.scope === 'Scope 2'"}],
 "mark": {"type": "text", "align": "right", "baseline": "middle", "dx": -11, "dy": 24, "fontSize": 20, "fill": "#2F7DCA"},
 "encoding": {"x": {"field": "year", "type": "nominal", "bandPosition": 0}, "y": {"field": "v1", "type": "quantitative"}, "text": {"field": "value", "type": "quantitative", "format": ","}}},
{"data": {"name": "bars"},
 "transform": [{"stack": "value", "groupby": ["year"], "sort": [{"field": "scope", "order": "ascending"}], "as": ["v0", "v1"]}, {"calculate": "(datum.v0 + datum.v1) / 2", "as": "mid"}, {"filter": "datum.scope === 'Scope 3'"}],
 "mark": {"type": "text", "align": "right", "baseline": "middle", "dx": -11, "dy": 8, "fontSize": 20, "fill": "#2B5EC6"},
 "encoding": {"x": {"field": "year", "type": "nominal", "bandPosition": 0}, "y": {"field": "mid", "type": "quantitative"}, "text": {"field": "value", "type": "quantitative", "format": ","}}},
{"data": {"name": "offsets"}, "transform": [{"filter": "datum.year === 'CY12'"}],
 "mark": {"type": "text", "align": "left", "baseline": "middle", "dx": 31, "dy": -11, "fontSize": 19.5, "fill": "#595959"},
 "encoding": {"x": {"field": "year", "type": "nominal", "bandPosition": 1}, "y": {"field": "from", "type": "quantitative"}, "text": {"field": "note"}}},
{"data": {"name": "offsets"}, "transform": [{"filter": "datum.year === 'FY13'"}],
 "mark": {"type": "text", "align": "left", "baseline": "middle", "dx": 30, "dy": -20, "fontSize": 19.5, "fill": "#595959"},
 "encoding": {"x": {"field": "year", "type": "nominal", "bandPosition": 1}, "y": {"field": "from", "type": "quantitative"}, "text": {"field": "note"}}},
{"data": {"name": "offsets"}, "transform": [{"filter": "datum.year === 'FY14'"}],
 "mark": {"type": "text", "align": "left", "baseline": "middle", "dx": 25, "dy": -44, "fontSize": 19.5, "fill": "#595959", "lineBreak": "\n", "lineHeight": 24},
 "encoding": {"x": {"field": "year", "type": "nominal", "bandPosition": 1}, "y": {"field": "from", "type": "quantitative"}, "text": {"field": "note"}}}
]},
{"layer": [
{"data": {"name": "norm"},
 "mark": {"type": "line", "strokeWidth": 3.5},
 "encoding": {
  "x": {"field": "year", "type": "nominal"},
  "y": {"field": "value", "type": "quantitative", "scale": {"domain": [0, 18], "nice": false, "zero": true},
        "axis": {"orient": "right", "title": "Normalized Emissions by Revenue (mtCO2e/$M)", "values": [0, 2, 4, 6, 8, 10, 12, 14, 16, 18], "format": ".1f", "domain": false, "ticks": false, "tickSize": 0, "grid": false, "labelColor": "#2E6AD0", "labelFontSize": 18.5, "labelPadding": 24, "labelAlign": "left", "titleColor": "#595959", "titleFontSize": 19, "titleFontWeight": "normal", "titleAngle": 270, "titleX": 85, "titleY": 343, "titleBaseline": "middle", "titleAlign": "center",
                 "encoding": {"labels": {"dy": {"value": {"expr": "-0.6 * datum.value"}}}}}},
  "stroke": {"field": "series", "type": "nominal", "scale": {"domain": ["Scope 1", "Scope 2", "Scope 3"], "range": ["#11E0F8", "#159FB1", "#2D45BE"]},
   "legend": {"orient": "none", "legendX": 722, "legendY": 737, "title": null, "symbolType": "stroke", "symbolSize": 841, "symbolStrokeWidth": 6.5, "rowPadding": 6, "labelFontSize": 19, "labelColor": "#595959", "labelOffset": 10, "labelLimit": 500,
     "labelExpr": "datum.label === 'Scope 1' ? ['Scope 1: Normalized', 'by Revenue'] : datum.label === 'Scope 2' ? ['Scope 2: Normalized', 'by Revenue'] : ['Scope 3 (air travel only):', 'Normalized by Revenue']",
     "encoding": {"labels": {"lineHeight": {"value": 25.5}}}}}
 }},
{"data": {"name": "norm"},
 "mark": {"type": "circle", "size": 1075, "opacity": 1},
 "encoding": {
  "x": {"field": "year", "type": "nominal"},
  "y": {"field": "value", "type": "quantitative"},
  "fill": {"field": "series", "type": "nominal", "scale": {"domain": ["Scope 1", "Scope 2", "Scope 3"], "range": ["#11E0F8", "#159FB1", "#2D45BE"]}, "legend": null}
 }},
{"data": {"name": "norm"},
 "mark": {"type": "text", "align": "center", "baseline": "middle", "fontSize": 16, "fill": "#ffffff"},
 "encoding": {
  "x": {"field": "year", "type": "nominal"},
  "y": {"field": "value", "type": "quantitative"},
  "text": {"field": "value", "type": "quantitative", "format": ".1f"}
 }}
]}
],
"resolve": {"scale": {"y": "independent"}}
}
